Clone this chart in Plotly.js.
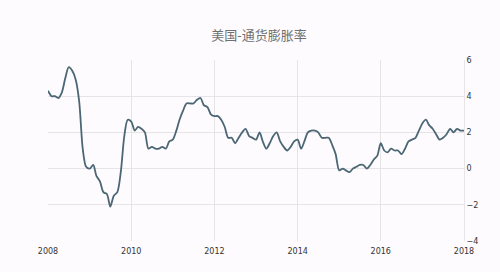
<!DOCTYPE html>
<html>
<head>
<meta charset="utf-8">
<script src="https://cdn.plot.ly/plotly-3.0.1.min.js"></script>
<style>html,body{margin:0;padding:0;background:#fdfbfd;}#chart{width:500px;height:272px;}</style>
</head>
<body>
<div id="chart"></div>
<script>
const titleText = "美国-通货膨胀率";
const years = [2008, 2009, 2010, 2011, 2012, 2013, 2014, 2015, 2016, 2017, 2018];
const inflation2008 = [4.3, 4.0, 4.0, 3.9, 4.2, 5.0, 5.6, 5.4, 4.9, 3.7, 1.1, 0.1];
const inflation2009 = [0.0, 0.2, -0.4, -0.7, -1.3, -1.4, -2.1, -1.5, -1.3, -0.2, 1.8, 2.7];
const inflation2010 = [2.6, 2.1, 2.3, 2.2, 2.0, 1.1, 1.2, 1.1, 1.1, 1.2, 1.1, 1.5];
const inflation2011 = [1.6, 2.1, 2.7, 3.2, 3.6, 3.6, 3.6, 3.8, 3.9, 3.5, 3.4, 3.0];
const inflation2012 = [2.9, 2.9, 2.7, 2.3, 1.7, 1.7, 1.4, 1.7, 2.0, 2.2, 1.8, 1.7];
const inflation2013 = [1.6, 2.0, 1.5, 1.1, 1.4, 1.8, 2.0, 1.5, 1.2, 1.0, 1.2, 1.5];
const inflation2014 = [1.6, 1.1, 1.5, 2.0, 2.1, 2.1, 2.0, 1.7, 1.7, 1.7, 1.3, 0.8];
const inflation2015 = [-0.1, 0.0, -0.1, -0.2, 0.0, 0.1, 0.2, 0.2, 0.0, 0.2, 0.5, 0.7];
const inflation2016 = [1.4, 1.0, 0.9, 1.1, 1.0, 1.0, 0.8, 1.1, 1.5, 1.6, 1.7, 2.1];
const inflation2017 = [2.5, 2.7, 2.4, 2.2, 1.9, 1.6, 1.7, 1.9, 2.2, 2.0, 2.2, 2.1];
const inflation2018 = [2.1];
const yTicks = [-4, -2, 0, 2, 4, 6];
const xTickLabels = ["2008", "2010", "2012", "2014", "2016", "2018"];

const series = [inflation2008, inflation2009, inflation2010, inflation2011, inflation2012,
  inflation2013, inflation2014, inflation2015, inflation2016, inflation2017, inflation2018];
const xs = [], ys = [];
series.forEach((arr, i) => {
  arr.forEach((v, m) => {
    xs.push(years[i] + "-" + String(m + 1).padStart(2, "0") + "-01");
    ys.push(v);
  });
});

const trace = {
  x: xs, y: ys, type: "scatter", mode: "lines",
  line: {color: "#4b6674", width: 1.8, shape: "spline", smoothing: 0.8},
  hoverinfo: "x+y"
};

const layout = {
  width: 500, height: 272,
  paper_bgcolor: "#fdfbfd", plot_bgcolor: "#fdfbfd",
  margin: {l: 48, r: 36, t: 60, b: 31},
  title: {text: titleText, x: 0.518, xanchor: "center", y: 0.868, yanchor: "middle",
    font: {family: "Noto Sans CJK SC, sans-serif", size: 13, color: "#707070"}},
  showlegend: false,
  xaxis: {
    type: "date",
    range: ["2008-01-01", "2018-01-01"],
    tickvals: xTickLabels.map(y => y + "-01-01"),
    ticktext: xTickLabels,
    showgrid: true, gridcolor: "#e6e4e6", gridwidth: 1,
    zeroline: false, showline: false, ticks: "",
    tickfont: {family: "DejaVu Sans, sans-serif", size: 8, color: "#333333"},
    ticklabelstandoff: 4
  },
  yaxis: {
    side: "right",
    range: [-4, 6],
    tickvals: yTicks,
    showgrid: true, gridcolor: "#e6e4e6", gridwidth: 1,
    zeroline: false, showline: true, linecolor: "#e6e4e6", linewidth: 1, mirror: false,
    ticks: "",
    tickfont: {family: "DejaVu Sans, sans-serif", size: 8, color: "#333333"}
  }
};

Plotly.newPlot("chart", [trace], layout, {displayModeBar: false, staticPlot: true});
</script>
</body>
</html>
